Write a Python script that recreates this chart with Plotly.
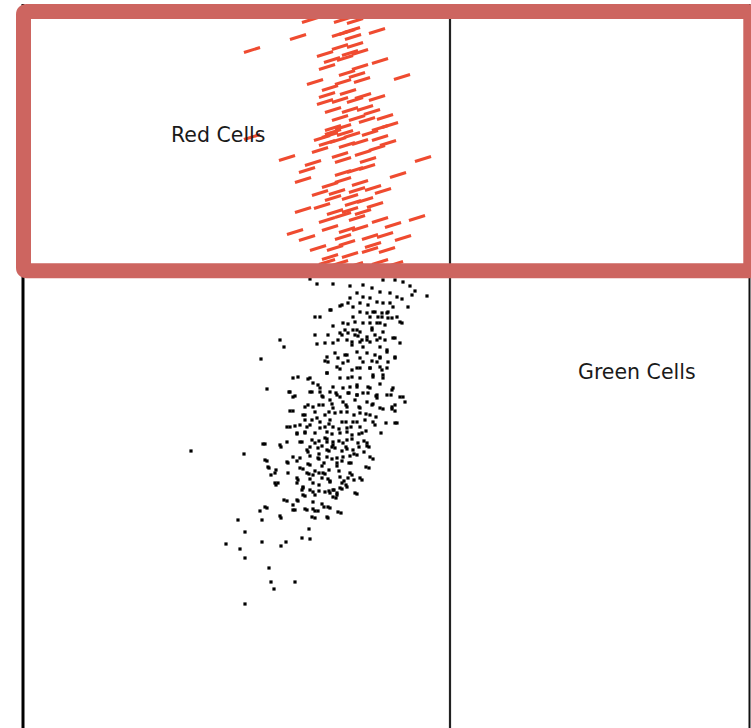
import plotly.graph_objects as go

# ---- data (axis units) ----
red_pts = [
    (310,20),(342,20),(355,21),(347,32),(340,34),(352,30),(377,31),(298,37),(353,37),(252,50),
    (325,54),(350,53),(360,52),(345,58),(332,60),(380,61),(327,67),(360,67),(347,73),(357,75),
    (402,77),(315,82),(343,82),(362,80),(348,92),(327,95),(363,96),(377,98),(325,102),(340,100),
    (350,110),(333,110),(365,108),(340,118),(357,118),(367,120),(333,128),(343,127),(380,128),(390,125),
    (330,135),(252,137),(333,132),(370,133),(380,138),(327,143),(347,145),(360,142),(388,143),(287,158),
    (340,155),(363,153),(377,148),(313,163),(343,160),(423,159),(307,170),(343,173),(367,167),(303,180),
    (343,180),(360,183),(320,193),(337,192),(357,190),(373,188),(383,191),(333,198),(350,197),(303,210),
    (353,203),(350,210),(363,212),(343,215),(417,218),(327,220),(357,218),(380,220),(393,225),(295,232),
    (330,228),(347,230),(307,238),(343,237),(370,237),(403,238),(347,243),(373,245),(330,257),(350,255),
    (370,250),(387,250),(327,262),(340,263),(355,265),(380,262),(395,264),(318,248),(335,248),(360,228),
    (322,206),(365,200),(338,140),(352,135),(330,88),(355,45),(340,47),(368,160),(320,150),(398,175),
    (322,138),(345,133),(372,112),(385,117),(355,100),(355,170),(330,185),(375,205),(335,212),(385,235),
]

black_pts = [
    # upper part
    (310,279),(317,284),(333,284),(350,286),(363,285),(372,288),(395,280),(410,286),(415,291),(427,296),
    (402,299),(390,293),(380,292),(383,280),(403,282),(350,298),(342,305),(348,303),(360,303),(368,305),
    (377,302),(383,303),(390,303),(408,307),(331,310),(360,312),(367,313),(375,312),(382,313),(388,312),
    (315,317),(320,317),(353,317),(370,317),(378,317),(388,318),(397,317),(333,326),(343,323),(348,324),
    (355,322),(370,323),(380,323),(402,323),(353,330),(372,330),(360,332),(383,332),(315,335),(328,335),
    (342,335),(348,333),(358,336),(367,337),(380,338),(395,338),(284,347),(317,344),(333,343),(352,342),
    (360,342),(367,340),(377,340),(385,340),(400,343),(327,357),(335,353),(347,355),(357,352),(367,353),
    (375,355),(387,352),(395,357),(280,340),(261,359),(357,293),(363,297),(370,298),(397,297),(412,295),
    (340,306),(353,307),(393,307),(330,310),(373,312),(387,313),(382,317),(392,318),(400,322),(363,323),
    (377,323),(385,325),(345,330),(357,330),(372,328),(340,333),(355,335),(375,335),(393,338),(338,340),
    (347,340),(362,340),(370,342),(325,343),(352,345),(363,347),(380,347),(387,350),(345,355),(380,357),
    # middle part
    (325,361),(338,358),(348,361),(360,358),(372,361),(380,358),(395,358),(340,369),(352,370),(360,368),
    (370,368),(380,367),(387,368),(327,373),(340,378),(352,377),(360,378),(373,377),(383,375),(293,378),
    (298,377),(308,379),(313,383),(333,387),(350,387),(357,385),(368,387),(380,384),(290,392),(310,392),
    (320,392),(330,392),(337,395),(348,393),(357,395),(368,393),(377,395),(392,390),(400,397),(387,395),
    (293,397),(330,400),(343,402),(355,400),(367,402),(377,398),(305,407),(313,407),(323,405),(333,408),
    (347,407),(360,408),(372,405),(380,408),(392,407),(290,411),(303,415),(315,412),(325,415),(335,413),
    (347,412),(360,413),(370,415),(392,409),(305,420),(317,418),(330,420),(342,422),(353,422),(365,420),
    (375,425),(395,423),(287,427),(295,426),(310,425),(320,428),(333,427),(347,428),(360,427),(297,433),
    (305,432),(315,433),(327,432),(340,433),(352,435),(362,433),(312,440),(325,438),(333,442),(347,440),
    (367,443),(328,362),(343,363),(363,362),(377,362),(388,362),(337,367),(357,368),(370,368),(382,370),
    (310,378),(327,373),(348,378),(373,375),(383,378),(267,389),(289,392),(318,385),(320,388),(343,388),
    (357,387),(370,388),(393,388),(323,397),(340,397),(357,395),(295,396),(312,392),(322,396),(336,393),
    (349,393),(363,393),(376,396),(391,395),(403,397),(405,402),(308,405),(319,405),(332,404),(346,405),
    (359,407),(373,404),(383,409),(395,405),(293,411),(305,415),(329,412),(341,412),(354,415),(366,414),
    (376,417),(395,411),(312,420),(320,422),(329,424),(346,422),(357,422),(373,422),(386,423),(397,423),
    (290,427),(300,425),(307,427),(325,427),(339,429),(351,427),(366,431),(297,434),(305,433),(332,434),
    (347,432),(359,434),(381,433),(327,439),(319,441),(339,441),(352,439),(364,441),
    # lower part
    (263,444),(280,445),(300,442),(315,443),(327,442),(333,445),(343,443),(358,443),(367,446),(307,450),
    (318,448),(327,450),(335,448),(347,449),(353,450),(265,460),(287,462),(293,457),(300,458),(310,456),
    (318,458),(327,457),(337,458),(343,457),(350,456),(357,455),(370,457),(268,467),(275,473),(288,473),
    (300,468),(310,465),(322,466),(337,466),(349,463),(366,467),(297,478),(307,473),(313,475),(323,473),
    (328,479),(340,477),(350,473),(360,478),(275,483),(297,483),(303,487),(313,483),(330,482),(342,483),
    (348,478),(302,490),(313,492),(325,492),(333,490),(340,488),(347,487),(355,493),(303,495),(330,493),
    (333,497),(337,495),(284,500),(297,500),(313,502),(322,504),(265,507),(293,505),(293,510),(305,509),
    (313,509),(318,511),(328,507),(338,512),(280,516),(312,517),(327,517),(265,444),(287,442),(302,442),
    (281,447),(310,447),(322,446),(332,447),(346,447),(359,447),(369,447),(191,451),(244,454),(308,452),
    (319,454),(329,451),(342,451),(354,454),(364,452),(319,459),(332,459),(342,461),(373,459),(267,461),
    (288,463),(297,461),(308,464),(324,463),(337,463),(351,463),(269,468),(276,470),(303,469),(315,471),
    (329,470),(339,471),(369,468),(271,475),(309,474),(319,473),(325,474),(352,475),(298,480),(310,479),
    (322,478),(330,481),(344,481),(354,480),(362,480),(278,483),(276,485),(319,485),(346,485),(303,488),
    (310,490),(334,490),(342,489),(319,491),(329,491),(337,493),(357,494),(305,496),(315,495),(336,498),
    (287,501),(298,501),(260,511),(267,508),(295,510),(307,510),(315,511),(324,507),(330,508),(341,513),
    # sparse tail
    (238,520),(262,520),(281,518),(315,518),(328,518),(245,532),(302,538),(309,529),(310,539),(226,544),
    (240,549),(262,542),(281,546),(286,542),(245,558),(269,568),(271,582),(295,582),(274,589),(245,604),
]

red_x = [p[0] for p in red_pts]
red_y = [p[1] for p in red_pts]
blk_x = [p[0] for p in black_pts]
blk_y = [p[1] for p in black_pts]

gate_x = 450
labels = ["Red Cells", "Green Cells"]
label_x = [218, 637]
label_y = [135, 372]

W, H = 751, 728

fig = go.Figure()

fig.add_trace(go.Scatter(
    x=blk_x, y=blk_y, mode="markers", hoverinfo="skip",
    marker=dict(symbol="square", size=3.2, color="#000000", line=dict(width=0)),
))
fig.add_trace(go.Scatter(
    x=red_x, y=red_y, mode="markers", hoverinfo="skip",
    marker=dict(symbol="line-ew", size=12, angle=-17,
                color="#EF4B30", line=dict(width=3, color="#EF4B30")),
))

for t, x, y in zip(labels, label_x, label_y):
    fig.add_annotation(x=x, y=y, text=t, showarrow=False,
                       font=dict(family="DejaVu Sans", size=20.5, color="#1a1a1a"))

# axis / gate lines
fig.add_shape(type="line", x0=23, x1=23, y0=4, y1=740, line=dict(color="#000000", width=3), layer="below")
fig.add_shape(type="line", x0=gate_x, x1=gate_x, y0=4, y1=740, line=dict(color="#222222", width=2.2), layer="below")
fig.add_shape(type="line", x0=749.5, x1=749.5, y0=4, y1=740, line=dict(color="#111111", width=2), layer="below")

# highlight rectangle with rounded corners
L, R, T, B, r = 23.5, 750.8, 11.5, 270.8, 3
path = (f"M {L+r},{T} L {R-r},{T} Q {R},{T} {R},{T+r} L {R},{B-r} Q {R},{B} {R-r},{B} "
        f"L {L+r},{B} Q {L},{B} {L},{B-r} L {L},{T+r} Q {L},{T} {L+r},{T} Z")
fig.add_shape(type="path", path=path, line=dict(color="#CD6560", width=15), layer="above")

fig.update_layout(
    width=W, height=H,
    margin=dict(l=0, r=0, t=0, b=0),
    paper_bgcolor="white", plot_bgcolor="white",
    showlegend=False,
    xaxis=dict(range=[0, W], visible=False, showgrid=False, zeroline=False),
    yaxis=dict(range=[H, 0], visible=False, showgrid=False, zeroline=False),
)

fig.write_html(
    "out.html",
    config={"displayModeBar": False, "staticPlot": True},
    post_script="document.body.style.margin='0';document.body.style.overflow='hidden';",
)
